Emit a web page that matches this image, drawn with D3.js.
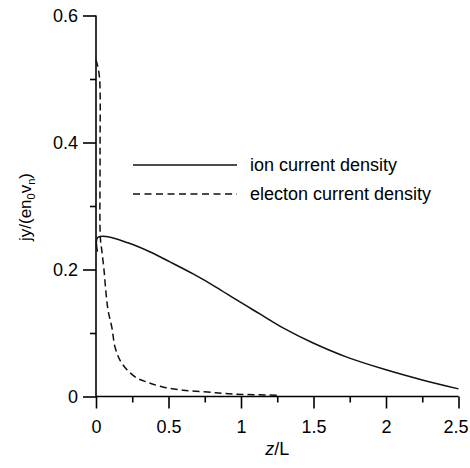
<!DOCTYPE html>
<html><head><meta charset="utf-8">
<script src="https://cdn.jsdelivr.net/npm/d3@7"></script>
<style>body{margin:0;background:#fff}svg{display:block}text{font-family:"Liberation Sans",Arial,sans-serif;fill:#000}</style>
</head><body>
<script>
const ionZ = [0.01, 0.01, 0.07, 0.22, 0.37, 0.51, 0.67, 0.83, 0.97, 1.13, 1.29, 1.49, 1.73, 2.0, 2.25, 2.5];
const ionJ = [0.228, 0.25, 0.252, 0.242, 0.228, 0.212, 0.193, 0.172, 0.152, 0.13, 0.108, 0.085, 0.062, 0.042, 0.026, 0.012];
const eleZ = [0.0, 0.012, 0.025, 0.028, 0.03, 0.04, 0.055, 0.069, 0.083, 0.11, 0.131, 0.166, 0.214, 0.283, 0.36, 0.46, 0.6, 0.77, 0.94, 1.27];
const eleJ = [0.53, 0.52, 0.5, 0.38, 0.25, 0.23, 0.2, 0.163, 0.136, 0.108, 0.078, 0.057, 0.042, 0.029, 0.022, 0.015, 0.01, 0.007, 0.004, 0.002];
const xMajor = [0, 0.5, 1, 1.5, 2, 2.5];
const xLabels = ["0", "0.5", "1", "1.5", "2", "2.5"];
const xMinor = [0.25, 0.75, 1.25, 1.75, 2.25];
const yMajor = [0, 0.2, 0.4, 0.6];
const yLabels = ["0", "0.2", "0.4", "0.6"];
const yMinor = [0.1, 0.3, 0.5];
const legendNames = ["ion current density", "electon current density"];

const W = 470, H = 468;
const svg = d3.select("body").append("svg").attr("width", W).attr("height", H);
const x = d3.scaleLinear().domain([0, 2.5]).range([96, 458.5]);
const y = d3.scaleLinear().domain([0, 0.6]).range([396.5, 15.5]);

const fs = 18;
// x axis
const xAxis = svg.append("g").attr("transform", `translate(0,${y(0)})`)
  .call(d3.axisBottom(x).tickValues(xMajor).tickFormat((d, i) => xLabels[i]).tickSize(12).tickPadding(12));
xAxis.select(".domain").attr("d", `M${x(0)},0H${x(2.5)}`);
xAxis.selectAll(".tick text").filter(d => d === 2.5).attr("dx", -3);
svg.append("g").attr("transform", `translate(0,${y(0)})`)
  .call(d3.axisBottom(x).tickValues(xMinor).tickFormat("").tickSize(6))
  .select(".domain").remove();
// y axis
const yAxis = svg.append("g").attr("transform", `translate(${x(0)},0)`)
  .call(d3.axisLeft(y).tickValues(yMajor).tickFormat((d, i) => yLabels[i]).tickSize(13).tickPadding(5));
yAxis.select(".domain").attr("d", `M0,${y(0.6)}V${y(0)}`);
svg.append("g").attr("transform", `translate(${x(0)},0)`)
  .call(d3.axisLeft(y).tickValues(yMinor).tickFormat("").tickSize(6))
  .select(".domain").remove();
svg.selectAll(".domain, .tick line").attr("stroke", "#000").attr("stroke-width", 1.6);
svg.selectAll(".tick text").attr("font-size", fs).attr("font-family", '"Liberation Sans",Arial,sans-serif').attr("fill", "#000");

// lines
const line = d3.line().x(d => x(d[0])).y(d => y(d[1])).curve(d3.curveCatmullRom.alpha(0.5));
svg.append("path").datum(ionZ.map((z, i) => [z, ionJ[i]]))
  .attr("d", line).attr("fill", "none").attr("stroke", "#111").attr("stroke-width", 1.5);
svg.append("path").datum(eleZ.map((z, i) => [z, eleJ[i]]))
  .attr("d", line).attr("fill", "none").attr("stroke", "#111").attr("stroke-width", 1.5)
  .attr("stroke-dasharray", "7,4");

// legend
const lg = svg.append("g");
legendNames.forEach((name, i) => {
  const ly = 165 + i * 29;
  lg.append("line").attr("x1", 133).attr("x2", 237).attr("y1", ly).attr("y2", ly)
    .attr("stroke", "#111").attr("stroke-width", 1.5)
    .attr("stroke-dasharray", i === 1 ? "7,4.5" : null);
  lg.append("text").attr("x", 250).attr("y", ly + 6).attr("font-size", fs).text(name);
});

// axis titles
svg.append("text").attr("x", (x(0) + x(2.5)) / 2).attr("y", 455).attr("text-anchor", "middle")
  .attr("font-size", fs).html('<tspan font-style="italic">z</tspan>/L');
const yl = svg.append("text").attr("transform", "translate(31,207) rotate(-90)")
  .attr("text-anchor", "middle").attr("font-size", 17);
yl.append("tspan").text("jy/(en");
yl.append("tspan").attr("font-size", 11).attr("dy", 4).text("0");
yl.append("tspan").attr("dy", -4).text("v");
yl.append("tspan").attr("font-size", 11).attr("dy", 4).text("n");
yl.append("tspan").attr("dy", -4).text(")");
</script>
</body></html>
